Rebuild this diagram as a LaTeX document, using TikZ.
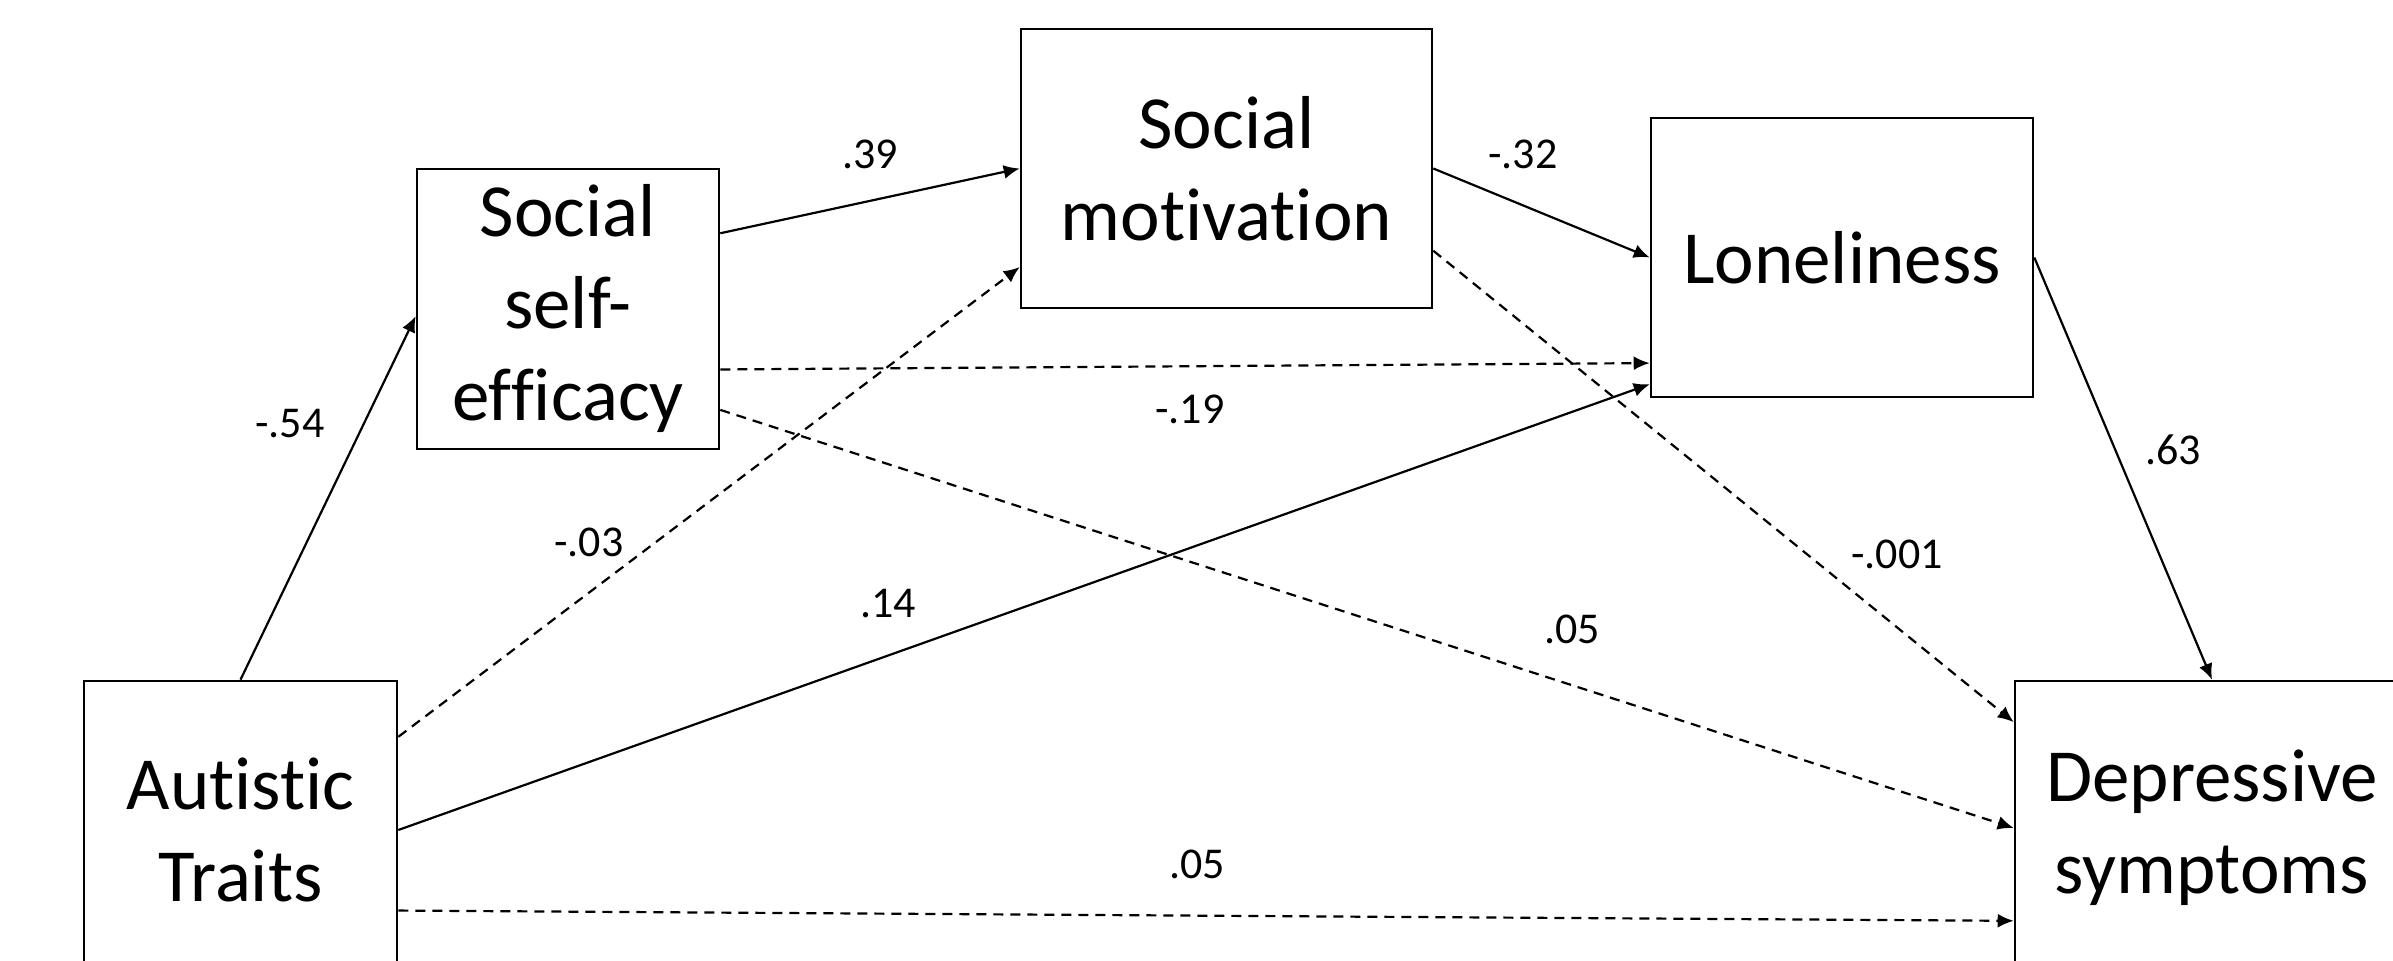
\documentclass[tikz,border=0pt]{standalone}
\usepackage{fontspec}
\setmainfont[Ligatures=NoCommon]{Carlito}
\usetikzlibrary{calc,arrows.meta}

\begin{document}
\begin{tikzpicture}[x=0.5pt,y=-0.5pt,>={Latex[length=8pt,width=7pt]},
    box/.style={draw,line width=1.3pt,align=center,inner sep=0pt,font=\fontsize{37.5}{46}\selectfont},
    lbl/.style={font=\fontsize{22}{26}\selectfont},
    sig/.style={->,line width=1.1pt},
    nsig/.style={->,line width=1.1pt,dash pattern=on 5pt off 3.5pt}]
        \clip (0,0) rectangle (2393,961);
        \node[box,minimum width=156.5pt,minimum height=149pt] (AT) at (240.5,830) {Autistic\\Traits};
        \node[box,minimum width=151pt,minimum height=140pt] (SSE) at (568,309) {Social\\self-\\efficacy};
        \node[box,minimum width=205.5pt,minimum height=139.5pt] (SM) at (1226.5,168.5) {Social\\motivation};
        \node[box,minimum width=191pt,minimum height=139.5pt] (L) at (1842,257.5) {Loneliness};
        \node[box,minimum width=197pt,minimum height=147pt] (D) at (2212,828) {Depressive\\symptoms};
        \draw[sig] (AT.north) -- ($(SSE.north west)!0.525!(SSE.south west)$);
        \draw[sig] ($(SSE.north east)!0.232!(SSE.south east)$) -- (SM.west);
        \draw[sig] (SM.east) -- (L.west);
        \draw[sig] (L.east) -- (D.north);
        \draw[nsig] ($(AT.north east)!0.19!(AT.south east)$) -- ($(SM.north west)!0.85!(SM.south west)$);
        \draw[sig] (AT.east) -- ($(L.north west)!0.95!(L.south west)$);
        \draw[nsig] ($(AT.north east)!0.768!(AT.south east)$) -- ($(D.north west)!0.813!(D.south west)$);
        \draw[nsig] ($(SSE.north east)!0.714!(SSE.south east)$) -- ($(L.north west)!0.875!(L.south west)$);
        \draw[nsig] ($(SSE.north east)!0.857!(SSE.south east)$) -- (D.west);
        \draw[nsig] ($(SM.north east)!0.792!(SM.south east)$) -- ($(D.north west)!0.143!(D.south west)$);
        \node[lbl] (b1) at (290,424) {-.54};
        \node[lbl] (b2) at (870,154) {.39};
        \node[lbl] (b3) at (1523,154) {-.32};
        \node[lbl] (b4) at (2173,450) {.63};
        \node[lbl] (b5) at (589,542) {-.03};
        \node[lbl] (b6) at (888,604) {.14};
        \node[lbl] (b7) at (1197,864) {.05};
        \node[lbl] (b8) at (1190,409) {-.19};
        \node[lbl] (b9) at (1572,629) {.05};
        \node[lbl] (b10) at (1897,554) {-.001};
    \end{tikzpicture}
\end{document}
